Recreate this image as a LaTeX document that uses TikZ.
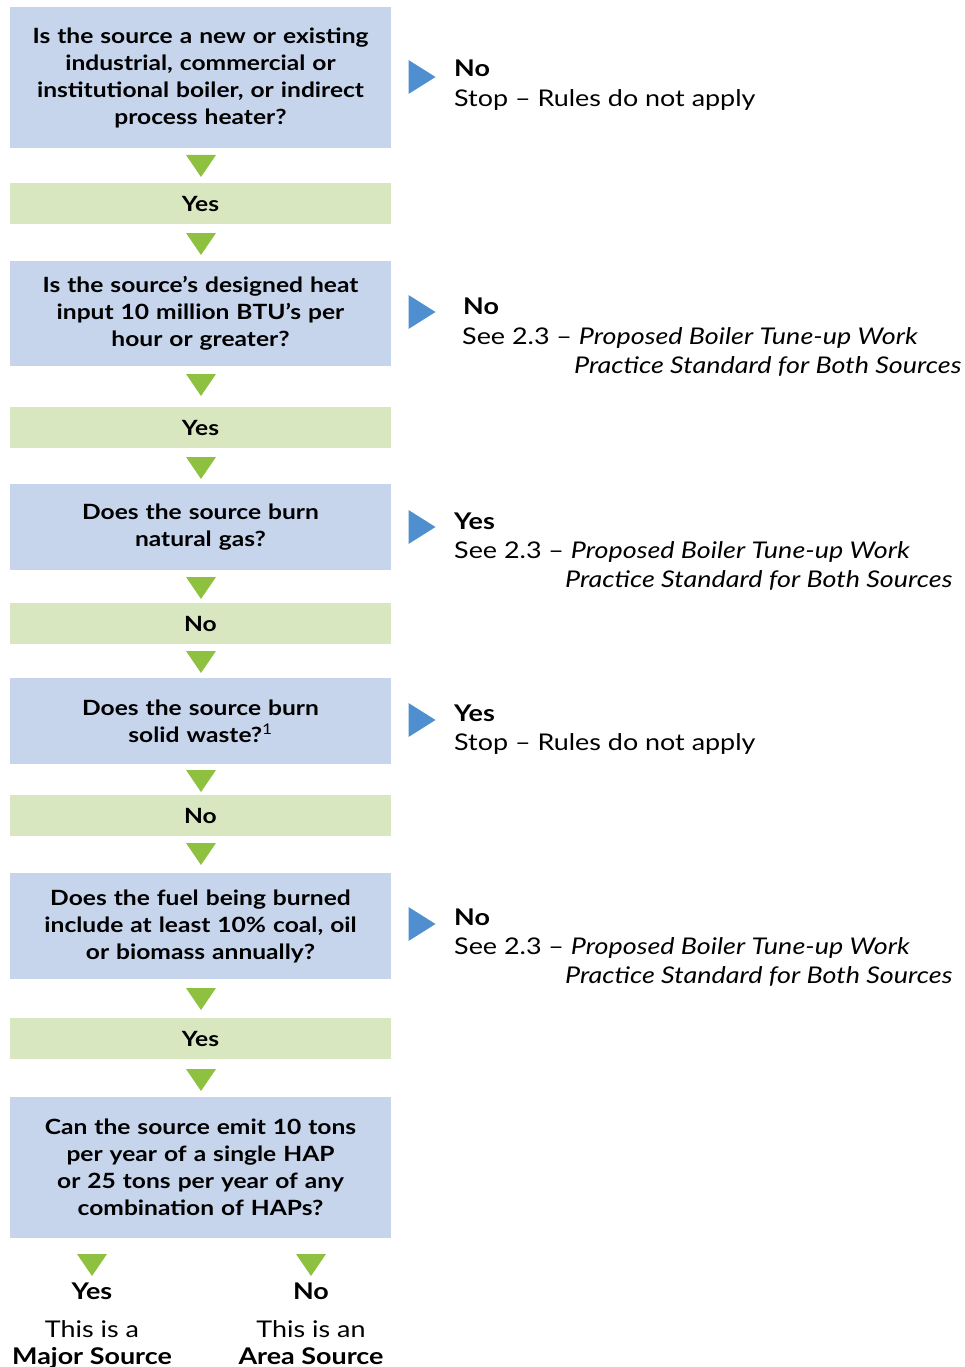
\documentclass[tikz,border=0pt]{standalone}
\usepackage{fontspec}
\setmainfont{Lato}[FakeStretch=1.17]
\definecolor{qblue}{HTML}{C6D5EC}
\definecolor{agreen}{HTML}{D9E7C1}
\definecolor{tgreen}{HTML}{8DC13F}
\definecolor{tblue}{HTML}{4F8FCF}
\begin{document}
\begin{tikzpicture}[x=1pt,y=-1pt,
  qbox/.style={fill=qblue, minimum width=381pt, inner sep=0pt, text width=378pt, align=center,
    font=\bfseries\fontsize{21}{27}\selectfont},
  abox/.style={fill=agreen, minimum width=381pt, minimum height=41pt, inner sep=0pt,
    font=\bfseries\fontsize{21}{27}\selectfont},
  rhead/.style={anchor=base west, inner sep=0pt, font=\bfseries\fontsize{23}{29}\selectfont},
  rtext/.style={anchor=base west, inner sep=0pt, font=\fontsize{23}{29}\selectfont},
  btext/.style={anchor=base, inner sep=0pt, font=\fontsize{23}{29}\selectfont},
  gdown/.pic={\fill[tgreen] (-15,-11) -- (15,-11) -- (0,11) -- cycle;},
  bright/.pic={\fill[tblue] (-13.5,-17) -- (13.5,0) -- (-13.5,17) -- cycle;}]
\useasboundingbox (0,0) rectangle (964,1367);

% left column
\node[qbox, minimum height=141pt] (q1) at (200.5,77.5) {Is the source a new or existing\\industrial, commercial or\\institutional boiler, or indirect\\process heater?};
\pic at (201,166) {gdown};
\node[abox] (a1) at (200.5,203.5) {Yes};
\pic at (201,244) {gdown};
\node[qbox, minimum height=105pt] (q2) at (200.5,313.5) {Is the source's designed heat\\input 10 million BTU's per\\hour or greater?};
\pic at (201,385) {gdown};
\node[abox] (a2) at (200.5,427.5) {Yes};
\pic at (201,468) {gdown};
\node[qbox, minimum height=86pt] (q3) at (200.5,527) {Does the source burn\\natural gas?};
\pic at (201,588) {gdown};
\node[abox] (a3) at (200.5,623.5) {No};
\pic at (201,662) {gdown};
\node[qbox, minimum height=86pt] (q4) at (200.5,721) {Does the source burn\\solid waste?\textsuperscript{\mdseries 1}};
\pic at (201,781) {gdown};
\node[abox] (a4) at (200.5,815.5) {No};
\pic at (201,854) {gdown};
\node[qbox, minimum height=106pt] (q5) at (200.5,926) {Does the fuel being burned\\include at least 10\% coal, oil\\or biomass annually?};
\pic at (201,999) {gdown};
\node[abox] (a5) at (200.5,1038.5) {Yes};
\pic at (201,1080) {gdown};
\node[qbox, minimum height=141pt] (q6) at (200.5,1167.5) {Can the source emit 10 tons\\per year of a single HAP\\or 25 tons per year of any\\combination of HAPs?};

% bottom outcomes
\pic at (92,1265) {gdown};
\pic at (311,1265) {gdown};
\node[btext, font=\bfseries\fontsize{23}{29}\selectfont] (y6) at (92,1299) {Yes};
\node[btext] (y6a) at (92,1337) {This is a};
\node[btext, font=\bfseries\fontsize{23}{29}\selectfont] (y6b) at (92,1364) {Major Source};
\node[btext, font=\bfseries\fontsize{23}{29}\selectfont] (n6) at (311,1299) {No};
\node[btext] (n6a) at (311,1337) {This is an};
\node[btext, font=\bfseries\fontsize{23}{29}\selectfont] (n6b) at (311,1364) {Area Source};

% right outcomes
\pic at (422,77) {bright};
\node[rhead] (r1h) at (454,77) {No};
\node[rtext] (r1t) at (454,107) {Stop -- Rules do not apply};

\pic at (422,312) {bright};
\node[rhead] (r2h) at (463,314) {No};
\node[rtext] (r2t) at (462,344) {See 2.3 -- \textit{Proposed Boiler Tune-up Work}};
\node[rtext] (r2u) at (574,373) {\textit{Practice Standard for Both Sources}};

\pic at (422,527) {bright};
\node[rhead] (r3h) at (454,529) {Yes};
\node[rtext] (r3t) at (454,558) {See 2.3 -- \textit{Proposed Boiler Tune-up Work}};
\node[rtext] (r3u) at (565,587) {\textit{Practice Standard for Both Sources}};

\pic at (422,720) {bright};
\node[rhead] (r4h) at (454,721) {Yes};
\node[rtext] (r4t) at (454,750) {Stop -- Rules do not apply};

\pic at (422,924) {bright};
\node[rhead] (r5h) at (454,925) {No};
\node[rtext] (r5t) at (454,954) {See 2.3 -- \textit{Proposed Boiler Tune-up Work}};
\node[rtext] (r5u) at (565,983) {\textit{Practice Standard for Both Sources}};
\end{tikzpicture}
\end{document}
